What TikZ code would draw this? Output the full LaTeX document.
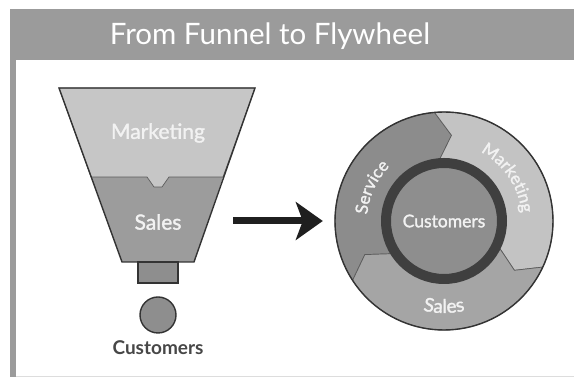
\documentclass[tikz,border=0pt]{standalone}
\usepackage{fontspec}
\setsansfont{Lato}
\newfontfamily\heavyfont{Lato}[FakeBold=1.6]
\usetikzlibrary{arrows.meta,decorations.text}

\definecolor{frameGray}{HTML}{9B9B9B}
\definecolor{paleGray}{HTML}{DDDDDD}
\definecolor{lineGray}{HTML}{333333}
\definecolor{topGray}{HTML}{C6C6C6}
\definecolor{midGray}{HTML}{9C9C9C}
\definecolor{spoutGray}{HTML}{8E8E8E}
\definecolor{serviceGray}{HTML}{8C8C8C}
\definecolor{marketingGray}{HTML}{C3C3C3}
\definecolor{salesGray}{HTML}{A5A5A5}
\definecolor{ringGray}{HTML}{3F3F3F}
\definecolor{labelGray}{HTML}{474747}
\definecolor{paleText}{HTML}{F2F2F2}

\newcommand\ringfont{\heavyfont\fontsize{17}{17}\selectfont}
\newcommand\ringfontlarge{\heavyfont\fontsize{19}{19}\selectfont}

\begin{document}
\begin{tikzpicture}[
x=1pt,y=1pt,
font=\sffamily,
outline/.style={draw=lineGray,line width=1.4pt},
segment/.style={draw=lineGray!80,line width=0.7pt},
title/.style={text=white,font=\sffamily\fontsize{29.5}{29.5}\selectfont,anchor=base},
funnelLabel/.style={text=paleText,font=\heavyfont\fontsize{21}{21}\selectfont},
hubLabel/.style={text=paleText,font=\heavyfont\fontsize{17.5}{17.5}\selectfont},
customerLabel/.style={text=labelGray,font=\sffamily\bfseries\fontsize{19}{19}\selectfont},
bigArrow/.style={-{Stealth[length=27pt,width=38pt,inset=7pt]},line width=7pt,draw=black!88},
ringText/.style={decorate,decoration={text along path,text align=center,text color=paleText,text={#1}}},
]
\useasboundingbox (0,0) rectangle (574,377);

% Frame and title bar
\fill[white] (0,0) rectangle (574,377);
\fill[frameGray] (10,317) rectangle (574,368);
\fill[frameGray] (10,0) rectangle (16,317);
\draw[paleGray,line width=0.8pt] (16,0.4) -- (574,0.4);
\node[title] (title) at (270,332) {From Funnel to Flywheel};

% Funnel
\fill[midGray] (91,200) -- (223,200) -- (194,115) -- (122,115) -- cycle;
\draw[segment,fill=topGray] (59,289) -- (255,289) -- (223,200) -- (169,200) -- (162,190)
  -- (154,190) -- (147,200) -- (91,200) -- cycle;
\draw[outline] (59,289) -- (255,289) -- (194,115) -- (122,115) -- cycle;
\draw[outline,fill=spoutGray] (138,115) rectangle (178,94);
\draw[outline,fill=spoutGray] (158,62) circle[radius=18pt];

\node[funnelLabel] (funnelMarketing) at (158,244) {Marketing};
\node[funnelLabel] (funnelSales) at (158,155) {Sales};
\node[customerLabel] (funnelCustomers) at (158,29) {Customers};

% Flywheel
\node[circle,minimum size=218pt,inner sep=0pt] (wheel) at (444,156) {};
\begin{scope}[shift={(444,156)}]
  \foreach \a/\b/\col in {213/95/serviceGray, 95/-25/marketingGray, -25/-147/salesGray}{
    \draw[segment,fill=\col] (\a:109) arc[start angle=\a,end angle=\b,radius=109pt]
      -- ({\b-10}:86) -- (\b:60) arc[start angle=\b,end angle=\a,radius=60pt]
      -- ({\a-10}:86) -- cycle;
  }
  \draw[outline] (0,0) circle[radius=109pt];
  \draw[draw=ringGray,line width=10pt,fill=spoutGray] (0,0) circle[radius=58pt];
  \node[hubLabel] (hub) at (0,0) {Customers};

  \path[ringText={|\ringfont|Service}] (188:77) arc[start angle=188,end angle=122,radius=77pt];
  \path[ringText={|\ringfont|Marketing}] (68:78) arc[start angle=68,end angle=0,radius=78pt];
  \path[ringText={|\ringfontlarge|Sales}] (-124:92) arc[start angle=-124,end angle=-56,radius=92pt];
\end{scope}

% Funnel to flywheel
\coordinate (arrowTail) at (233,156);
\draw[bigArrow,shorten >=12pt] (arrowTail) -- (wheel);
\end{tikzpicture}
\end{document}
